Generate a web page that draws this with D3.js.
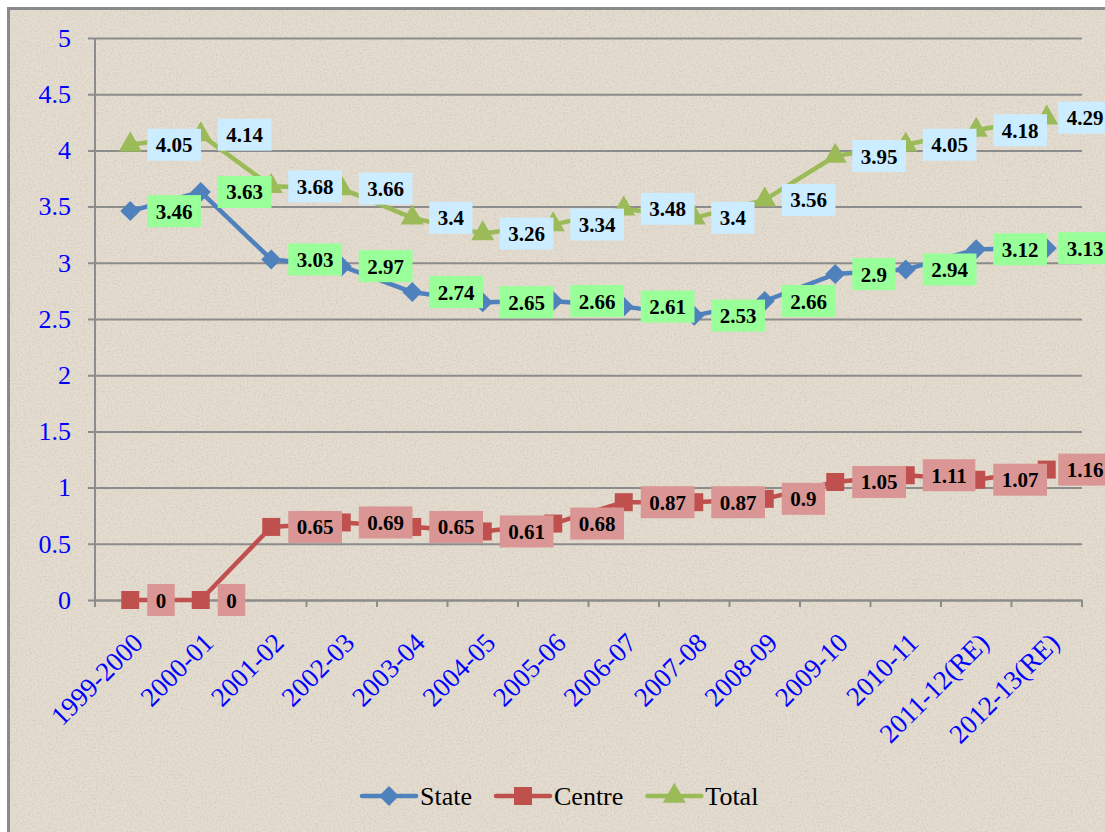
<!DOCTYPE html>
<html>
<head>
<meta charset="utf-8">
<script src="https://cdn.jsdelivr.net/npm/d3@7"></script>
<style>
  body { margin: 0; background: #ffffff; }
  svg { display: block; }
  svg text { font-family: "Liberation Serif", "Times New Roman", "DejaVu Serif", serif; }
</style>
</head>
<body>
<div id="chart"></div>
<script>
//  data
var years = ["1999-2000", "2000-01", "2001-02", "2002-03", "2003-04", "2004-05", "2005-06",
             "2006-07", "2007-08", "2008-09", "2009-10", "2010-11", "2011-12(RE)", "2012-13(RE)"];
var stateVals  = [3.46, 3.63, 3.03, 2.97, 2.74, 2.65, 2.66, 2.61, 2.53, 2.66, 2.9, 2.94, 3.12, 3.13];
var centreVals = [0, 0, 0.65, 0.69, 0.65, 0.61, 0.68, 0.87, 0.87, 0.9, 1.05, 1.11, 1.07, 1.16];
var totalVals  = [4.05, 4.14, 3.68, 3.66, 3.4, 3.26, 3.34, 3.48, 3.4, 3.56, 3.95, 4.05, 4.18, 4.29];
var yTicks = [0, 0.5, 1, 1.5, 2, 2.5, 3, 3.5, 4, 4.5, 5];
var seriesNames = ["State", "Centre", "Total"];

//  styles
var lineColors  = {State: "#4f81bd", Centre: "#c0504d", Total: "#9bbb59"};
var labelFills  = {State: "#99ff99", Centre: "#d99694", Total: "#ccecff"};
var markerTypes = {State: "diamond", Centre: "square", Total: "triangle"};

var series = seriesNames.map(function(n, k) {
  return {name: n, values: [stateVals, centreVals, totalVals][k]};
});

var width = 1105, height = 832;
var plot = {left: 95, right: 1082, top: 38, bottom: 600};
var chartRight = 1112;   // the chart area runs a little past the picture edge

var svg = d3.select("#chart")
            .append("svg")
            .attr("width", width)
            .attr("height", height);

// paper texture background
var defs = svg.append("defs");
var noise = defs.append("filter")
                .attr("id", "paper")
                .attr("x", 0).attr("y", 0)
                .attr("width", "100%").attr("height", "100%");
noise.append("feTurbulence")
     .attr("type", "fractalNoise")
     .attr("baseFrequency", 0.55)
     .attr("numOctaves", 2)
     .attr("seed", 7)
     .attr("result", "n");
noise.append("feColorMatrix")
     .attr("in", "n")
     .attr("type", "matrix")
     .attr("values", "0 0 0 0 0.45  0 0 0 0 0.42  0 0 0 0 0.38  0 0 0 -2.2 1.25");

svg.append("rect")
   .attr("x", 8.5).attr("y", 8.5)
   .attr("width", 1120).attr("height", 840)
   .attr("fill", "#e4dccf")
   .attr("stroke", "#8a8a8a")
   .attr("stroke-width", 3);

svg.append("rect")
   .attr("x", 10).attr("y", 10)
   .attr("width", 1100).attr("height", 830)
   .attr("filter", "url(#paper)")
   .style("opacity", 0.35);

// scales
var x = d3.scaleBand()
          .domain(years)
          .range([plot.left, plot.right])
          .padding(0);

var y = d3.scaleLinear()
          .domain([0, 5])
          .range([plot.bottom, plot.top]);

function cx(i) { return x(years[i]) + x.bandwidth() / 2; }

// y axis + gridlines
var yAxis = d3.axisLeft(y)
              .tickValues(yTicks)
              .tickFormat(function(d) { return String(d); })
              .tickSize(-(plot.right - plot.left + 7))
              .tickPadding(17);

var gy = svg.append("g")
            .attr("transform", "translate(" + (plot.left - 7) + ",0)")
            .call(yAxis)
            .attr("font-family", null);
gy.select(".domain").remove();
gy.selectAll(".tick line")
  .attr("stroke", "#8c8c8c")
  .attr("stroke-width", 2);
gy.selectAll(".tick text")
  .attr("fill", "#0000ff")
  .style("font-size", "26px");

// vertical axis line
svg.append("line")
   .attr("x1", plot.left).attr("x2", plot.left)
   .attr("y1", y(5)).attr("y2", plot.bottom + 7)
   .attr("stroke", "#8c8c8c")
   .attr("stroke-width", 2);

// x axis: labels at category centres, ticks on the boundaries
var xAxis = d3.axisBottom(x).tickSize(0).tickPadding(0);
var gx = svg.append("g")
            .attr("transform", "translate(0," + plot.bottom + ")")
            .call(xAxis)
            .attr("font-family", null);
gx.select(".domain")
  .attr("stroke", "#8c8c8c")
  .attr("stroke-width", 2);
gx.selectAll(".tick text")
  .attr("fill", "#0000ff")
  .style("font-size", "27px")
  .attr("text-anchor", "end")
  .attr("dy", null)
  .attr("y", 0)
  .attr("dominant-baseline", "central")
  .attr("transform", "translate(8,38) rotate(-45)");

gx.selectAll("line.bound")
  .data(d3.range(years.length + 1))
  .enter()
  .append("line")
  .attr("class", "bound")
  .attr("x1", function(i) { return plot.left + i * x.step(); })
  .attr("x2", function(i) { return plot.left + i * x.step(); })
  .attr("y1", 0).attr("y2", 7)
  .attr("stroke", "#8c8c8c")
  .attr("stroke-width", 2);

// markers
function markerPath(type) {
  if (type === "diamond") return d3.symbol().type(d3.symbolSquare).size(200)();
  if (type === "square")  return d3.symbol().type(d3.symbolSquare).size(324)();
  return d3.symbol().type(d3.symbolTriangle).size(230)();
}
function markerRotate(type) { return type === "diamond" ? " rotate(45)" : ""; }

var line = d3.line()
             .x(function(d, i) { return cx(i); })
             .y(function(d) { return y(d); });

var gSeries = svg.selectAll("g.series")
                 .data(series)
                 .enter()
                 .append("g")
                 .attr("class", "series");

gSeries.append("path")
       .attr("d", function(s) { return line(s.values); })
       .attr("fill", "none")
       .attr("stroke", function(s) { return lineColors[s.name]; })
       .attr("stroke-width", 4.5)
       .attr("stroke-linejoin", "round");

gSeries.selectAll("path.mk")
       .data(function(s) { return s.values.map(function(v, i) { return {name: s.name, v: v, i: i}; }); })
       .enter()
       .append("path")
       .attr("class", "mk")
       .attr("d", function(d) { return markerPath(markerTypes[d.name]); })
       .attr("transform", function(d) {
         return "translate(" + cx(d.i) + "," + y(d.v) + ")" + markerRotate(markerTypes[d.name]);
       })
       .attr("fill", function(d) { return lineColors[d.name]; });

// data labels (drawn after every line so they sit on top)
var labelData = [];
series.forEach(function(s) {
  s.values.forEach(function(v, i) { labelData.push({name: s.name, v: v, i: i}); });
});

var gLab = svg.selectAll("g.lab")
              .data(labelData)
              .enter()
              .append("g")
              .attr("class", "lab");

gLab.append("rect")
    .attr("fill", function(d) { return labelFills[d.name]; });

gLab.append("text")
    .text(function(d) { return String(d.v); })
    .style("font-size", "21px")
    .style("font-weight", "bold")
    .attr("fill", "#000");

gLab.each(function(d) {
  var g = d3.select(this);
  var tw = g.select("text").node().getComputedTextLength();
  var w = tw + 17, h = 32;
  var left = Math.min(cx(d.i) + 17, chartRight - w);
  var top = y(d.v) - h / 2;
  g.select("rect").attr("x", left).attr("y", top).attr("width", w).attr("height", h);
  g.select("text").attr("x", left + 8.5).attr("y", y(d.v) + 7.5);
});

// legend
var legend = svg.append("g").attr("class", "legend");
var lx = 362, ly = 796;
series.forEach(function(s) {
  var item = legend.append("g").attr("transform", "translate(" + lx + "," + ly + ")");
  item.append("line")
      .attr("x1", 0).attr("x2", 54)
      .attr("y1", 0).attr("y2", 0)
      .attr("stroke", lineColors[s.name])
      .attr("stroke-width", 4.5)
      .attr("stroke-linecap", "round");
  item.append("path")
      .attr("d", markerPath(markerTypes[s.name]))
      .attr("transform", "translate(27,0)" + markerRotate(markerTypes[s.name]))
      .attr("fill", lineColors[s.name]);
  var t = item.append("text")
              .attr("x", 58)
              .attr("y", 9)
              .text(s.name)
              .style("font-size", "26px")
              .attr("fill", "#000");
  lx += 58 + t.node().getComputedTextLength() + 24;
});
</script>
</body>
</html>
